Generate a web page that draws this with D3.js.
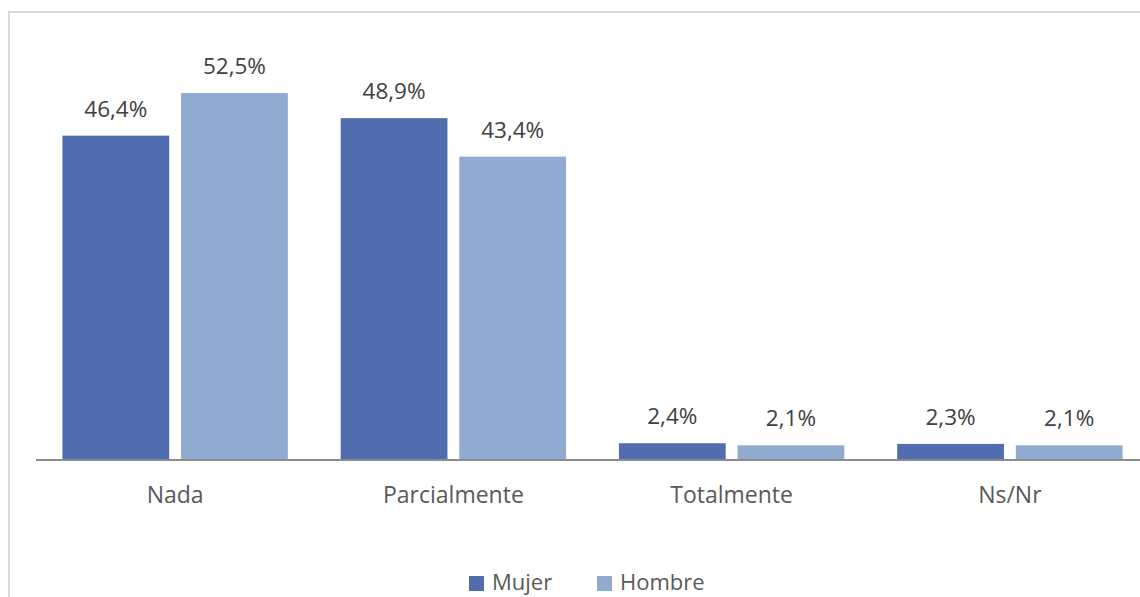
<!DOCTYPE html>
<html><head><meta charset="utf-8">
<script src="https://cdn.jsdelivr.net/npm/d3@7"></script>
<style>body{margin:0;background:#fff;}svg{display:block;font-family:"Open Sans",sans-serif;}</style>
</head><body>
<script>
const categories = ["Nada","Parcialmente","Totalmente","Ns/Nr"];
const seriesNames = ["Mujer","Hombre"];
const mujer = [46.4, 48.9, 2.4, 2.3];
const hombre = [52.5, 43.4, 2.1, 2.1];
const colors = ["#506db0","#91aad0"];

const W = 1140, H = 597;
const svg = d3.select("body").append("svg").attr("width", W).attr("height", H);

// chart border
svg.append("rect").attr("x", 9).attr("y", 12).attr("width", 1160).attr("height", 620)
  .attr("fill", "none").attr("stroke", "#d9d9d9").attr("stroke-width", 2);

const x0 = d3.scaleBand().domain(categories).range([36, 1149]).paddingInner(0.19).paddingOuter(0.095);
const x1 = d3.scaleBand().domain(seriesNames).range([0, x0.bandwidth()]).paddingInner(0.1);
const y = d3.scaleLinear().domain([0, 52.5]).range([460, 93]);

const data = categories.map((c, i) => ({cat: c, vals: [mujer[i], hombre[i]]}));
const fmt = v => d3.format(".1f")(v).replace(".", ",") + "%";

const g = svg.selectAll("g.cat").data(data).join("g").attr("class","cat")
  .attr("transform", d => `translate(${x0(d.cat)},0)`);
g.selectAll("rect").data(d => d.vals.map((v, j) => ({s: seriesNames[j], v, j}))).join("rect")
  .attr("x", d => x1(d.s)).attr("width", x1.bandwidth())
  .attr("y", d => y(d.v)).attr("height", d => y(0) - y(d.v))
  .attr("fill", d => colors[d.j]);
g.selectAll("text").data(d => d.vals.map((v, j) => ({s: seriesNames[j], v, j}))).join("text")
  .attr("x", d => x1(d.s) + x1.bandwidth()/2).attr("y", d => y(d.v) - 19)
  .attr("text-anchor", "middle").attr("font-size", 22.5).attr("fill", "#404040")
  .text(d => fmt(d.v));

// x axis
const ax = svg.append("g").attr("transform", "translate(0,460)")
  .call(d3.axisBottom(x0).tickSize(0).tickPadding(0));
ax.select(".domain").attr("stroke", "#8c8c8c").attr("stroke-width", 2).attr("d", "M36,0H1149");
ax.selectAll(".tick text").attr("font-size", 23).attr("fill", "#595959")
  .attr("font-family", "Open Sans, sans-serif").attr("dy", null).attr("y", 43);

// legend
const legX = [469, 597];
const lg = svg.append("g");
seriesNames.forEach((s, i) => {
  lg.append("rect").attr("x", legX[i]).attr("y", 576).attr("width", 15).attr("height", 15).attr("fill", colors[i]);
  lg.append("text").attr("x", legX[i] + 23).attr("y", 590).attr("font-size", 22).attr("fill", "#595959").text(s);
});
</script>
</body></html>
